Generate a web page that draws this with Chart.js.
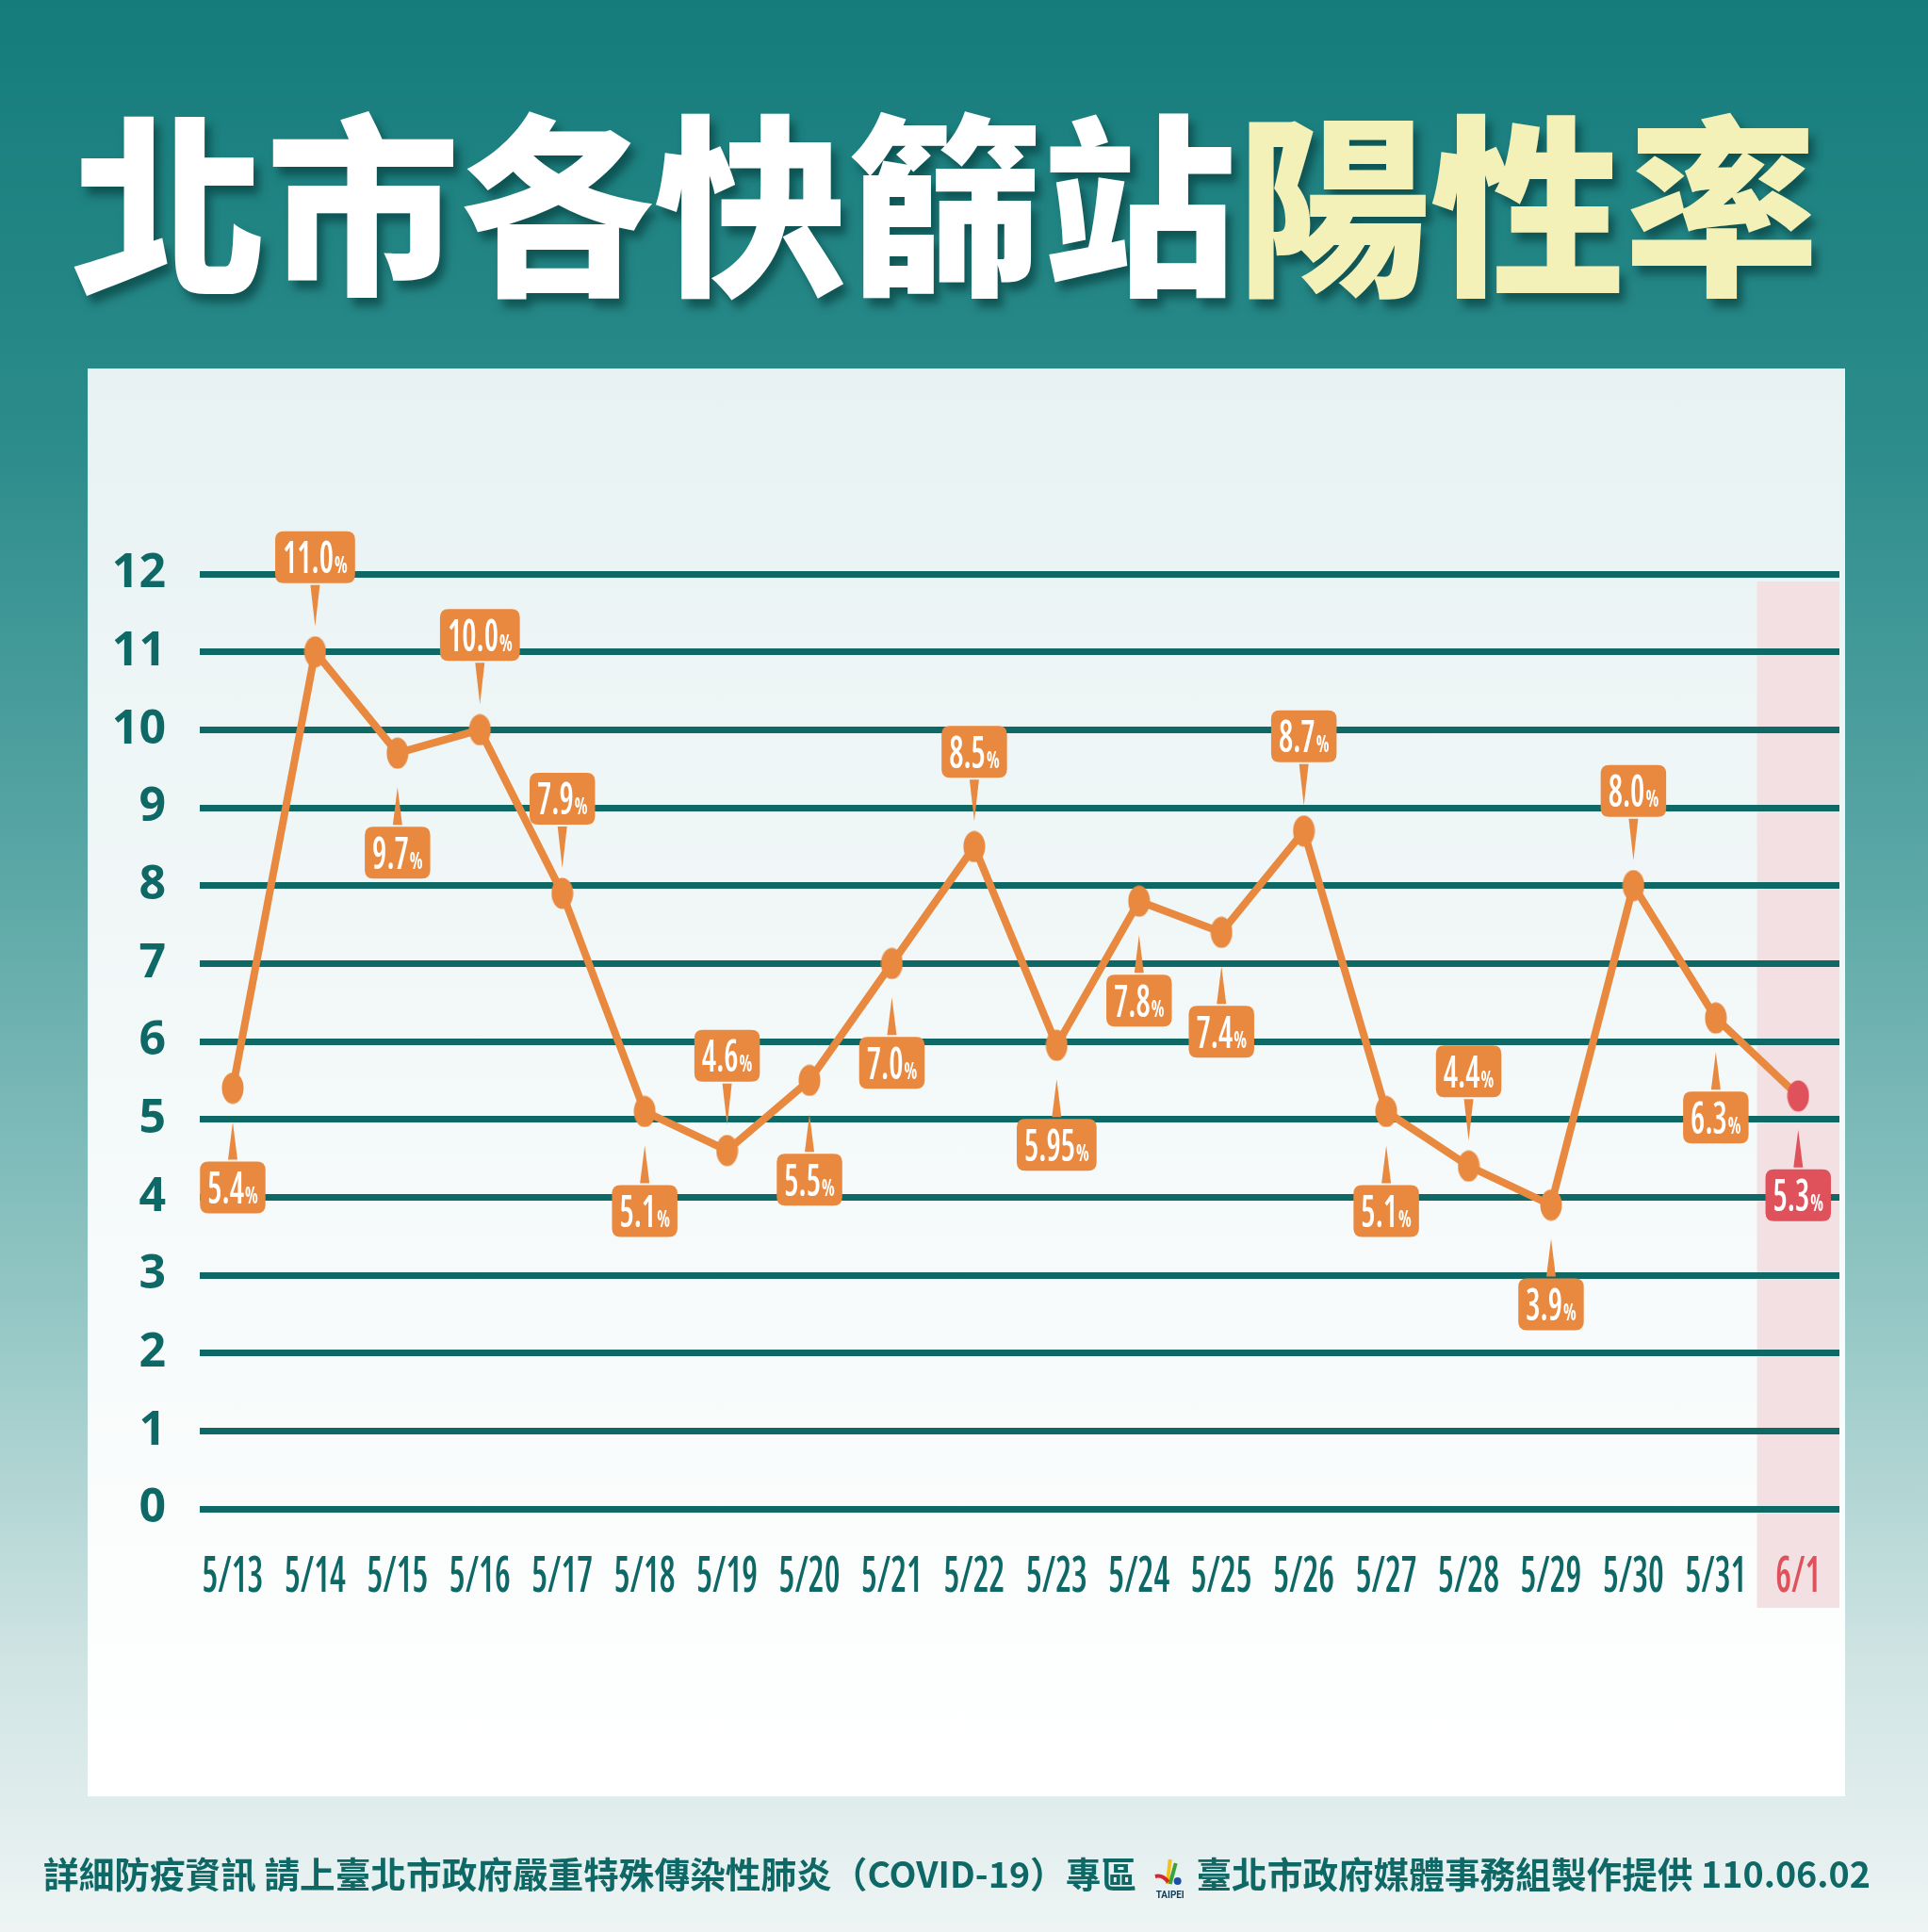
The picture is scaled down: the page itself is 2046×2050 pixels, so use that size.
<!DOCTYPE html>
<html><head><meta charset="utf-8">
<script src="https://cdn.jsdelivr.net/npm/chart.js@4.4.1/dist/chart.umd.min.js"></script>
<style>
html,body{margin:0;padding:0;}
body{width:2046px;height:2050px;position:relative;overflow:hidden;
  background:linear-gradient(180deg,#157c7b 0%,#2a8b8a 22%,#5aa7a6 45%,#94c7c5 68%,#cfe4e3 86%,#eef4f4 100%);}
#title{position:absolute;left:76px;top:104px;white-space:nowrap;font-family:"Noto Sans CJK TC","Noto Sans CJK SC",sans-serif;
  font-weight:900;font-size:206px;line-height:206px;color:#fff;text-shadow:6px 9px 10px rgba(0,45,45,0.55);}
#title .y{color:#f3f0b8;}
#panel{position:absolute;left:93px;top:391px;width:1865px;height:1515px;background:linear-gradient(180deg,#e8f2f3 0%,#f6fafa 60%,#ffffff 100%);}
#c{position:absolute;left:0;top:0;width:2046px;height:2050px;}
#footer{position:absolute;left:46px;top:1962px;white-space:nowrap;font-family:"Noto Sans CJK TC",sans-serif;font-weight:700;
  font-size:38px;line-height:50px;color:#0e6866;transform-origin:0 50%;}
#footer svg{vertical-align:middle;margin:0 6px 0 14px;}
</style></head>
<body>
<div id="title">北市各快篩站<span class="y">陽性率</span></div>
<div id="panel"></div>
<canvas id="c" width="2046" height="2050"></canvas>
<div id="footer">詳細防疫資訊 請上臺北市政府嚴重特殊傳染性肺炎（COVID-19）專區<svg width="44" height="48" viewBox="0 0 44 48"><path d="M22 4 L19 30" stroke="#f2c21b" stroke-width="4" fill="none"/><path d="M28 8 L22 30" stroke="#3aa23a" stroke-width="4" fill="none"/><path d="M6 22 Q14 20 20 28" stroke="#d6262e" stroke-width="4" fill="none"/><circle cx="30" cy="27" r="4" fill="#1f4fa3"/><text x="22" y="45" text-anchor="middle" font-size="10" font-weight="700" fill="#0e3b5a" font-family="Roboto">TAIPEI</text></svg>臺北市政府媒體事務組製作提供 110.06.02</div>
<script>
const dates = ['5/13','5/14','5/15','5/16','5/17','5/18','5/19','5/20','5/21','5/22','5/23','5/24','5/25','5/26','5/27','5/28','5/29','5/30','5/31','6/1'];
const positivity = [5.4,11.0,9.7,10.0,7.9,5.1,4.6,5.5,7.0,8.5,5.95,7.8,7.4,8.7,5.1,4.4,3.9,8.0,6.3,5.3];
const valueLabels = ['5.4','11.0','9.7','10.0','7.9','5.1','4.6','5.5','7.0','8.5','5.95','7.8','7.4','8.7','5.1','4.4','3.9','8.0','6.3','5.3'];
const yTicks = [0,1,2,3,4,5,6,7,8,9,10,11,12];

const ORANGE = '#e8893f', RED = '#e0525b', TEAL = '#0e6866';
const LAST = dates.length - 1;

// footer fit
(function(){const f=document.getElementById('footer');const w=f.getBoundingClientRect().width;f.style.transform='scaleX('+(1939/w)+')';})();

// pick the narrowest available face
const mctx = document.createElement('canvas').getContext('2d');
function mw(font,t){mctx.font=font;return mctx.measureText(t).width;}
const SAMPLE='5/13 0123456789';
const baseW = mw('bold 40px "Noto Sans"',SAMPLE);
const candidates = [
  {fam:'Open Sans',st:'condensed'},
  {fam:'Roboto Condensed',st:''},
  {fam:'Noto Sans',st:'condensed'}
];
let face = {fam:'Noto Sans',st:''}, best = 0.97;
for(const c of candidates){
  const r = mw('bold '+(c.st?c.st+' ':'')+'40px "'+c.fam+'", "Noto Sans"',SAMPLE)/baseW;
  if(r<best){best=r;face=c;}
}
const FW = 'bold'+(face.st?' '+face.st:'');
const FAM = '"'+face.fam+'", "Noto Sans"';
const X_SIZE = 52;
const X_SQUEEZE = Math.min(1, 68/mw(FW+' '+X_SIZE+'px '+FAM,'5/13'));

function ellipse(color){const cv=document.createElement('canvas');cv.width=24;cv.height=34;const g=cv.getContext('2d');
  g.fillStyle=color;g.beginPath();g.ellipse(12,17,11.5,16.5,0,0,Math.PI*2);g.fill();return cv;}
const orangeDot = ellipse(ORANGE), redDot = ellipse(RED);

const bandPlugin = {
  id:'band',
  beforeDraw(chart){
    const {ctx, chartArea, scales:{x,y}} = chart;
    const l = x.getPixelForValue(LAST-0.5), r = chartArea.right;
    const t = y.getPixelForValue(12)+8, b = chartArea.bottom+105;
    ctx.save();ctx.fillStyle='#f2e0e3';ctx.fillRect(l,t,r-l,b-t);ctx.restore();
    // condensed x-axis labels: squeeze the glyphs the axis draws
    const s = x;
    if(!s._squeezed){
      const orig = s.drawLabels.bind(s);
      s.drawLabels = function(area){
        const c = this.ctx, ft = c.fillText;
        c.fillText = function(t,px,py,m){this.save();this.translate(px,py);this.scale(X_SQUEEZE,1);ft.call(this,t,0,0);this.restore();};
        try{orig(area);}finally{c.fillText = ft;}
      };
      s._squeezed = true;
    }
  }
};

function roundRect(ctx,x,y,w,h,r){ctx.beginPath();ctx.moveTo(x+r,y);ctx.lineTo(x+w-r,y);ctx.quadraticCurveTo(x+w,y,x+w,y+r);
  ctx.lineTo(x+w,y+h-r);ctx.quadraticCurveTo(x+w,y+h,x+w-r,y+h);ctx.lineTo(x+r,y+h);ctx.quadraticCurveTo(x,y+h,x,y+h-r);
  ctx.lineTo(x,y+r);ctx.quadraticCurveTo(x,y,x+r,y);ctx.closePath();}

const calloutPlugin = {
  id:'callouts',
  afterDatasetsDraw(chart, args, opts){
    const ctx = chart.ctx;
    const meta = chart.getDatasetMeta(0);
    const numFont = FW.replace('bold','600')+' '+opts.numSize+'px '+FAM;
    const pctFont = FW+' '+opts.pctSize+'px '+FAM;
    const sx = Math.min(1, 54/mw(numFont,'11.0'));
    meta.data.forEach((pt,i)=>{
      const color = i===LAST?RED:ORANGE;
      const above = opts.sides[i]==='above';
      ctx.save();
      ctx.font = numFont;
      const nw = ctx.measureText(valueLabels[i]).width*sx;
      ctx.font = pctFont;
      const pw = ctx.measureText('%').width*sx;
      const w = nw+pw+17, h = 55;
      const px = pt.x, py = pt.y;
      let tipY, baseY, boxY;
      if(above){ tipY = py-27; baseY = tipY-46; boxY = baseY-h; }
      else { tipY = py+36; baseY = tipY+42; boxY = baseY; }
      ctx.fillStyle = color;
      ctx.beginPath();ctx.moveTo(px-5,above?baseY+2:baseY-2);ctx.lineTo(px+5,above?baseY+2:baseY-2);ctx.lineTo(px,tipY);ctx.closePath();ctx.fill();
      roundRect(ctx,px-w/2,boxY,w,h,9);ctx.fill();
      ctx.fillStyle='#ffffff';ctx.textBaseline='alphabetic';ctx.textAlign='left';
      const tx = px-w/2+8, ty = boxY+h/2+17;
      ctx.save();ctx.translate(tx,ty);ctx.scale(sx,1);
      ctx.font = numFont;ctx.fillText(valueLabels[i],0,0);ctx.restore();
      ctx.save();ctx.translate(tx+nw+1,ty);ctx.scale(sx,1);
      ctx.font = pctFont;ctx.fillText('%',0,0);ctx.restore();
      ctx.restore();
    });
  }
};

new Chart(document.getElementById('c'), {
  type:'line',
  data:{datasets:[{
    data: positivity.map((v,i)=>({x:i,y:v})),
    borderColor:ORANGE, borderWidth:8, tension:0,
    pointStyle: dates.map((d,i)=>i===LAST?redDot:orangeDot),
    pointRadius:15, pointHoverRadius:15, clip:false
  }]},
  options:{
    responsive:false, animation:false, devicePixelRatio:1,
    layout:{padding:{left:93,right:94,top:609,bottom:329}},
    plugins:{legend:{display:false},tooltip:{enabled:false},
      callouts:{sides:['below','above','below','above','above','below','above','below','below','above','below','below','below','above','below','above','below','above','below','below'],
        numSize:46, pctSize:24}},
    scales:{
      x:{type:'linear',min:-0.4,max:19.5,
        afterBuildTicks:s=>{s.ticks=dates.map((d,i)=>({value:i}));},
        afterFit:s=>{s.height=120;},
        grid:{display:false},border:{display:false},
        ticks:{autoSkip:false,maxRotation:0,minRotation:0,padding:34,
          callback:(v)=>dates[v]!==undefined?dates[v]:'',
          color:(c)=>c.tick&&c.tick.value===LAST?RED:TEAL,
          font:{family:FAM,size:X_SIZE,weight:FW.replace('bold','600')}}},
      y:{min:0,max:12,
        afterBuildTicks:s=>{s.ticks=yTicks.map(v=>({value:v}));},
        afterFit:s=>{s.width=119;},
        grid:{color:TEAL,lineWidth:7,drawTicks:false},border:{display:false},
        ticks:{padding:36,color:TEAL,font:{family:'"Open Sans"',size:50,weight:'bold'}}}
    }
  },
  plugins:[bandPlugin,calloutPlugin]
});
</script>
</body></html>
